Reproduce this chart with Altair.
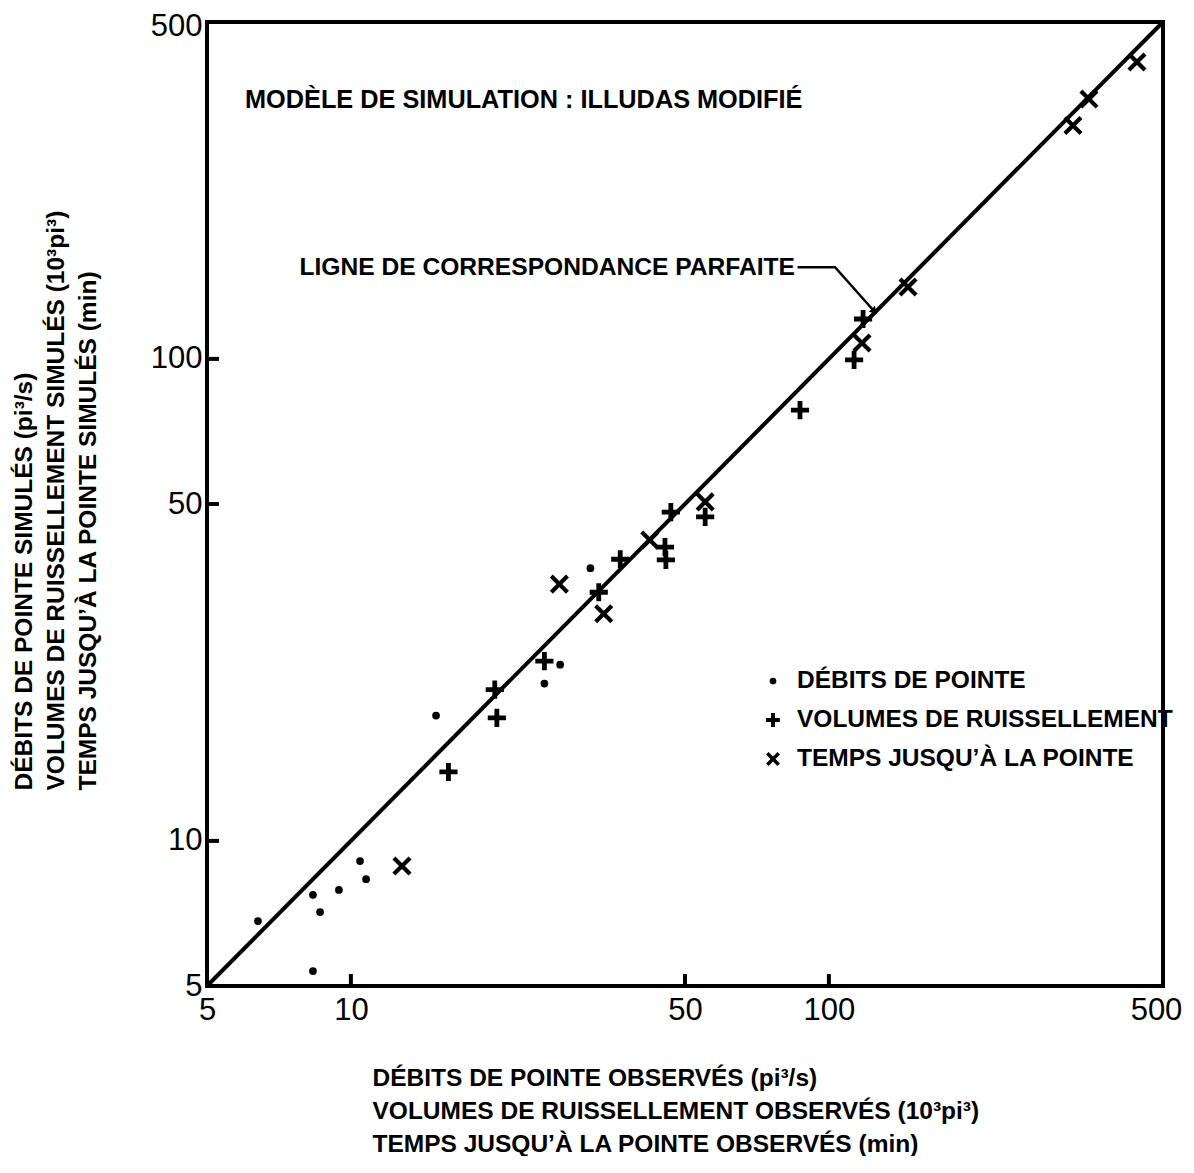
import altair as alt
import pandas as pd

# ---- data ----
deb_x = [6.39, 8.33, 8.62, 9.44, 10.45, 10.76, 8.33, 15.07, 25.4, 27.4, 31.7]
deb_y = [6.82, 7.73, 7.12, 7.91, 9.08, 8.33, 5.37, 18.2, 21.2, 23.2, 36.8]

vol_x = [16.0, 20.0, 20.2, 25.4, 33.0, 36.6, 45.4, 45.6, 46.7, 55.1, 87.0, 112.9, 117.9]
vol_y = [13.9, 20.6, 18.0, 23.6, 32.8, 38.4, 40.7, 38.3, 48.1, 47.0, 78.3, 99.5, 121.0]

temps_x = [12.79, 27.3, 33.8, 42.2, 55.1, 117.3, 146.4, 324.0, 350.0, 441.0]
temps_y = [8.87, 34.1, 29.6, 42.1, 50.5, 107.9, 141.0, 305.0, 346.0, 413.0]

series_names = ["DÉBITS DE POINTE", "VOLUMES DE RUISSELLEMENT", "TEMPS JUSQU’À LA POINTE"]

diag_vals = [5, 500]
tick_vals = [10, 50, 100]
label_vals = [5, 10, 50, 100, 500]

leader_x = [86.0, 103.0, 124.0]
leader_y = [155.0, 155.0, 126.0]
arrow_x = [124.0]
arrow_y = [126.0]

title_text = "MODÈLE DE SIMULATION : ILLUDAS MODIFIÉ"
annot_text = "LIGNE DE CORRESPONDANCE PARFAITE"

x_title = ["DÉBITS DE POINTE OBSERVÉS (pi³/s)",
           "VOLUMES DE RUISSELLEMENT OBSERVÉS (10³pi³)",
           "TEMPS JUSQU’À LA POINTE OBSERVÉS (min)"]
y_title = ["DÉBITS DE POINTE SIMULÉS (pi³/s)",
           "VOLUMES DE RUISSELLEMENT SIMULÉS (10³pi³)",
           "TEMPS JUSQU’À LA POINTE SIMULÉS (min)"]

FONT = "Liberation Sans"
W, H = 956, 964

xscale = alt.Scale(type="log", domain=[5, 500], nice=False)
yscale = alt.Scale(type="log", domain=[5, 500], nice=False)

xaxis = alt.Axis(values=label_vals, format="d", title=x_title, domain=False, ticks=False,
                 grid=False, labelFontSize=31, labelFont=FONT, labelColor="black",
                 labelOffset={"expr": "datum.value >= 500 ? -7 : 0"},
                 labelPadding=9, labelFlush=False, labelOverlap=False, labelBound=False,
                 titleFont=FONT, titleFontSize=24.5, titleFontWeight="bold", titleColor="black",
                 titleAlign="left", titleAnchor="start", titleBaseline="top",
                 titleX=165, titleY=80, titleLineHeight=33)
yaxis = alt.Axis(values=label_vals, format="d", title=y_title, domain=False, ticks=False,
                 grid=False, labelFontSize=31, labelFont=FONT, labelColor="black",
                 labelOffset={"expr": "datum.value >= 500 ? 4 : 0"},
                 labelPadding=5, labelFlush=False, labelOverlap=False, labelBound=False,
                 titleFont=FONT, titleFontSize=24.5, titleFontWeight="bold", titleColor="black",
                 titleAngle=270, titleAlign="left", titleBaseline="top",
                 titleX=-195, titleY=768, titleLineHeight=32)

PLUS = "M-1,0L1,0M0,-1L0,1"
XS = "M-1,-1L1,1M-1,1L1,-1"


def series_layer(xs, ys, shape, size, sw, filled):
    d = pd.DataFrame({"obs": xs, "sim": ys})
    if filled:
        m = alt.Chart(d).mark_point(shape=shape, size=size, filled=True, color="black",
                                    opacity=1, strokeWidth=0)
    else:
        m = alt.Chart(d).mark_point(shape=shape, size=size, filled=False, color="black",
                                    opacity=1, strokeWidth=sw, strokeCap="butt")
    return m.encode(x=alt.X("obs:Q", scale=xscale, axis=xaxis),
                    y=alt.Y("sim:Q", scale=yscale, axis=yaxis))


deb = series_layer(deb_x, deb_y, "circle", 60, 0, True)
vol = series_layer(vol_x, vol_y, PLUS, 330, 4.8, False)
tmp = series_layer(temps_x, temps_y, XS, 260, 4.2, False)

diag = alt.Chart(pd.DataFrame({"a": diag_vals, "b": diag_vals})).mark_line(
    color="black", strokeWidth=4).encode(
    x=alt.X("a:Q", scale=xscale), y=alt.Y("b:Q", scale=yscale))

xticks = alt.Chart(pd.DataFrame({"v": tick_vals})).mark_rule(color="black", strokeWidth=4).encode(
    x=alt.X("v:Q", scale=xscale), y=alt.value(H), y2=alt.value(H - 12))
yticks = alt.Chart(pd.DataFrame({"v": tick_vals})).mark_rule(color="black", strokeWidth=4).encode(
    y=alt.Y("v:Q", scale=yscale), x=alt.value(0), x2=alt.value(12))

leader = alt.Chart(pd.DataFrame({"a": leader_x, "b": leader_y, "o": [0, 1, 2]})).mark_line(
    color="black", strokeWidth=2.5).encode(
    x=alt.X("a:Q", scale=xscale), y=alt.Y("b:Q", scale=yscale), order="o:Q")
arrow = alt.Chart(pd.DataFrame({"a": arrow_x, "b": arrow_y})).mark_point(
    shape="triangle", angle=135, filled=True, color="black", size=70, opacity=1).encode(
    x=alt.X("a:Q", scale=xscale), y=alt.Y("b:Q", scale=yscale))

title = alt.Chart(pd.DataFrame({"t": [title_text]})).mark_text(
    font=FONT, fontSize=25.3, fontWeight="bold", color="black", align="left", baseline="middle").encode(
    text="t:N", x=alt.value(38), y=alt.value(78))
annot = alt.Chart(pd.DataFrame({"t": [annot_text]})).mark_text(
    font=FONT, fontSize=24.6, fontWeight="bold", color="black", align="right", baseline="middle").encode(
    text="t:N", x=alt.value(588), y=alt.value(246))

# manual legend
LEG_SX, LEG_TX, LEG_Y0, LEG_DY = 566, 590, 659, 39
leg_shapes = [("circle", 45, 0, True), (PLUS, 190, 4, False), (XS, 130, 3.5, False)]
legend_layers = []
for i, (name, (shp, sz, sw, fl)) in enumerate(zip(series_names, leg_shapes)):
    ld = pd.DataFrame({"t": [name]})
    if fl:
        sym = alt.Chart(ld).mark_point(shape=shp, size=sz, filled=True, color="black", opacity=1)
    else:
        sym = alt.Chart(ld).mark_point(shape=shp, size=sz, filled=False, color="black",
                                       opacity=1, strokeWidth=sw)
    legend_layers.append(sym.encode(x=alt.value(LEG_SX), y=alt.value(LEG_Y0 + i * LEG_DY)))
    legend_layers.append(alt.Chart(ld).mark_text(
        font=FONT, fontSize=24.5, fontWeight="bold", color="black", align="left",
        baseline="middle").encode(text="t:N", x=alt.value(LEG_TX), y=alt.value(LEG_Y0 + i * LEG_DY)))

chart = alt.layer(diag, xticks, yticks, leader, arrow, deb, vol, tmp, title, annot,
                  *legend_layers).properties(
    width=W, height=H,
    autosize=alt.AutoSizeParams(type="none"),
    padding={"left": 199, "top": 14, "right": 23, "bottom": 170},
).configure(background="white").configure_view(stroke="black", strokeWidth=4)

chart.save("out.html", embed_options={"renderer": "svg", "actions": False})
